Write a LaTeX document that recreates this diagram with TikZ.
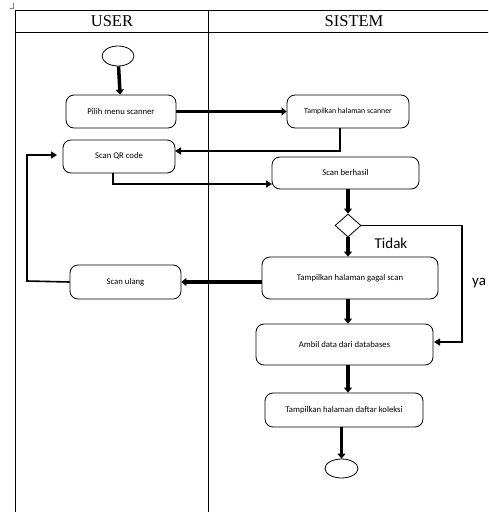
\documentclass[tikz,border=0pt]{standalone}
\usepackage{fontspec}
\setmainfont{Liberation Serif}
\newfontfamily\boxfont{Carlito}
\usetikzlibrary{shapes.geometric,arrows.meta,calc}

\tikzset{
  act/.style={draw, line width=0.8pt, rounded corners=8pt, inner sep=0pt,
    font=\boxfont\fontsize{8.7}{10}\selectfont},
  flow/.style={line width=3.5pt, -{Triangle[length=5pt,width=8pt]}},
  link/.style={line width=1.6pt, -{Triangle[length=6pt,width=7pt]}},
  lane/.style={line width=0.9pt},
  head/.style={font=\fontsize{16.5}{18}\selectfont}
}

\begin{document}
\begin{tikzpicture}[x=1pt, y=-1pt]
  \clip (0,0) rectangle (488,512);
  % swimlanes
  \draw[lane] (15,512) -- (15,10) -- (490,10);
  \draw[lane] (15,32) -- (490,32);
  \draw[lane] (208,10) -- (208,512);
  \draw[line width=0.6pt, gray] (13,3) -- (13,8) -- (10,8);
  \node[head] (huser) at (112,21) {USER};
  \node[head] (hsis) at (354,21) {SISTEM};

  % nodes
  \node[draw, ellipse, line width=0.8pt, minimum width=32pt, minimum height=20pt] (start) at (118,56) {};
  \node[act, minimum width=110pt, minimum height=33pt] (pilih) at (121,111.5) {Pilih menu scanner};
  \node[act, minimum width=122pt, minimum height=33pt, font=\boxfont\fontsize{7.8}{9}\selectfont] (tscan) at (348,111.5) {Tampilkan halaman scanner};
  \node[act, minimum width=112pt, minimum height=33pt] (scanqr) at (119,156.5) {Scan QR code};
  \node[act, minimum width=147pt, minimum height=32pt] (berhasil) at (345.5,173) {Scan berhasil};
  \node[draw, diamond, line width=0.8pt, minimum width=26pt, minimum height=23pt, inner sep=0pt] (dec) at (348,225.5) {};
  \node[act, minimum width=176pt, minimum height=42pt] (gagal) at (350,278) {Tampilkan halaman gagal scan};
  \node[act, minimum width=111pt, minimum height=34pt] (ulang) at (125.5,282) {Scan ulang};
  \node[act, minimum width=177pt, minimum height=41pt] (ambil) at (344.5,344.5) {Ambil data dari databases};
  \node[act, minimum width=158pt, minimum height=34pt] (koleksi) at (344,410) {Tampilkan halaman daftar koleksi};
  \node[draw, ellipse, line width=0.8pt, minimum width=33pt, minimum height=19pt] (finish) at (341.5,468.5) {};

  \node[font=\boxfont\fontsize{15}{17}\selectfont] (tidak) at (391,243) {Tidak};
  \node[font=\boxfont\fontsize{15}{17}\selectfont, anchor=west, inner sep=0pt] (ya) at (472,283) {ya};

  % helper points
  \coordinate (c1) at (340,128);
  \coordinate (c2) at (175,151);
  \coordinate (c3) at (113,173);
  \coordinate (c4) at (272,184);
  \coordinate (c5) at (462,226);
  \coordinate (c6) at (434,342);
  \coordinate (c7) at (27,281);
  \coordinate (c8) at (57,155);

  % connectors
  \draw[flow] (start) -- (pilih);
  \draw[flow] (pilih) -- (tscan);
  \draw[link] (c1) |- (c2);
  \draw[link] (c3) |- (c4);
  \draw[flow] (berhasil.south -| dec.north) -- (dec.north);
  \draw[link] (dec.east) -| (c5) |- (c6);
  \draw[flow] (dec.south) -- (dec.south |- gagal.north);
  \draw[flow] (gagal.west |- ulang.east) -- (ulang.east);
  \draw[link] (ulang.west) -- (c7) |- (c8);
  \draw[flow] (dec.south |- gagal.south) -- (dec.south |- ambil.north);
  \draw[flow] (dec.south |- ambil.south) -- (dec.south |- koleksi.north);
  \draw[flow] (koleksi.south -| finish.north) -- (finish.north);
\end{tikzpicture}
\end{document}
